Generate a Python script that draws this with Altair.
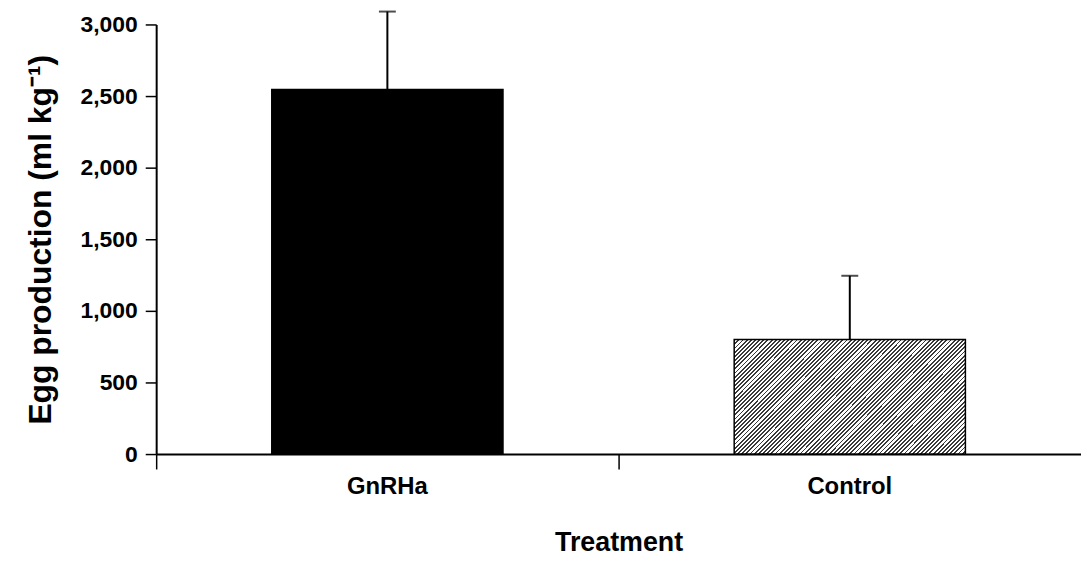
import altair as alt
import pandas as pd

treatments = ["GnRHa", "Control"]
means = [2545, 800]
upper_err = [545, 445]
y_ticks = [0, 500, 1000, 1500, 2000, 2500, 3000]

df = pd.DataFrame({
    "treatment": treatments,
    "mean": means,
    "upper": [m + e for m, e in zip(means, upper_err)],
})

# diagonal hatch as a striped linear gradient (style only)
periods = 83
dark = 0.45
stops = []
for i in range(periods):
    a = i / periods
    b = (i + dark) / periods
    c = (i + 1) / periods
    stops += [
        {"offset": a, "color": "#3a3a3a"},
        {"offset": b, "color": "#3a3a3a"},
        {"offset": b, "color": "#ffffff"},
        {"offset": c, "color": "#ffffff"},
    ]
hatch = {"gradient": "linear", "x1": 0, "y1": 0, "x2": 1.201, "y2": 0.5928, "stops": stops}

FONT = "Liberation Sans"

x_axis = alt.Axis(labelAngle=0, bandPosition=0)
y_axis = alt.Axis(values=y_ticks, format=",d")
xscale = alt.Scale(paddingInner=0, paddingOuter=0)
yscale = alt.Scale(domain=[0, 3000], nice=False)

X_TITLE = "Treatment"
Y_TITLE = "Egg production (ml kg⁻¹)"

base = alt.Chart(df)

bars = base.mark_bar(width=alt.RelativeBandSize(0.5), stroke="black", strokeWidth=1.5).encode(
    x=alt.X("treatment:N", sort=treatments, scale=xscale, axis=x_axis, title=X_TITLE),
    y=alt.Y("mean:Q", scale=yscale, axis=y_axis, title=Y_TITLE),
    fill=alt.condition(alt.datum.treatment == "GnRHa", alt.value("black"), alt.value(hatch)),
)

err = base.mark_rule(color="black", strokeWidth=2).encode(
    x=alt.X("treatment:N", sort=treatments, scale=xscale, axis=x_axis, title=X_TITLE),
    y=alt.Y("mean:Q", scale=yscale, axis=y_axis, title=Y_TITLE),
    y2="upper:Q",
)

cap = base.mark_tick(color="black", size=17, thickness=2).encode(
    x=alt.X("treatment:N", sort=treatments, scale=xscale, axis=x_axis, title=X_TITLE),
    y=alt.Y("upper:Q", scale=yscale, axis=y_axis, title=Y_TITLE),
)

chart = (
    (bars + err + cap)
    .properties(
        width=930, height=432,
        background="white",
        autosize=alt.AutoSizeParams(type="none"),
        padding={"left": 149, "top": 15, "right": 0, "bottom": 106},
    )
    .configure_view(stroke=None)
    .configure_axis(
        grid=False, domainColor="black", tickColor="black", domainWidth=2, tickWidth=1.5,
        labelFont=FONT, labelFontWeight="bold", labelColor="black",
        titleFont=FONT, titleFontWeight="bold", titleColor="black",
    )
    .configure_axisX(
        tickSize=15, labelFontSize=24, titleFontSize=27, labelPadding=6, titlePadding=31,
    )
    .configure_axisY(
        tickSize=11, labelFontSize=23, titleFontSize=32, labelPadding=8, titlePadding=23,
    )
)

chart.save("out.html", embed_options={"renderer": "svg", "actions": False})
